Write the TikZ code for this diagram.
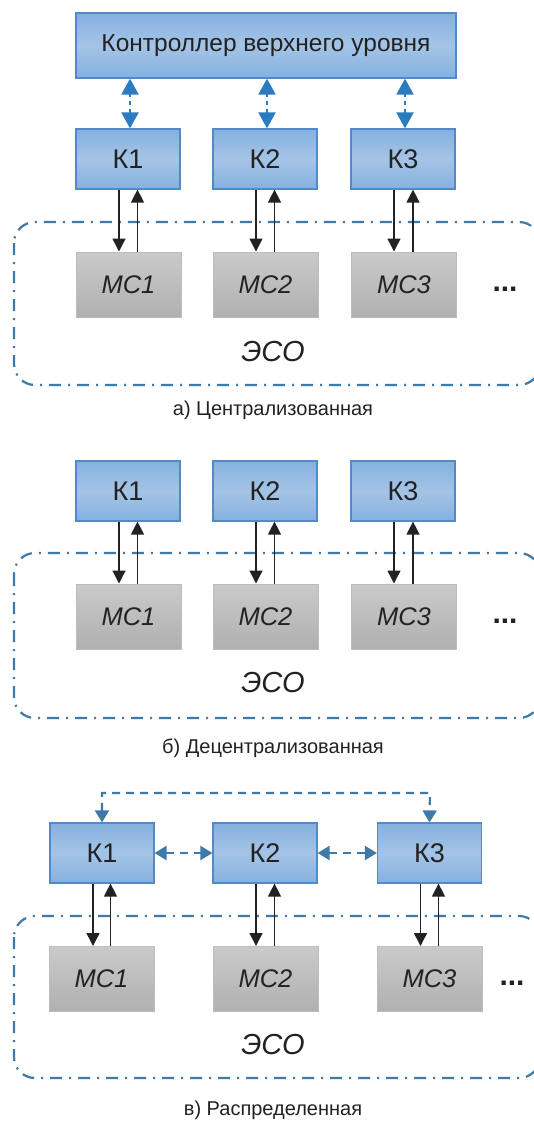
\documentclass[tikz,border=0pt]{standalone}
\usepackage{fontspec}
\setmainfont{Liberation Sans}
\usetikzlibrary{arrows.meta}
\definecolor{kbord}{HTML}{5289C9}
\definecolor{ktop}{HTML}{85B1DF}
\definecolor{kmid}{HTML}{A4C4E6}
\definecolor{mbord}{HTML}{BDBDBD}
\definecolor{mtop}{HTML}{CACACA}
\definecolor{mbot}{HTML}{B0B0B0}
\definecolor{esoc}{HTML}{3E79A8}
\definecolor{barr}{HTML}{2A7BC0}
\definecolor{txt}{HTML}{222222}
\tikzset{
  kbox/.style={draw=kbord, line width=1.2pt, top color=ktop, bottom color=ktop, middle color=kmid,
    minimum width=104pt, minimum height=60pt, inner sep=0pt, text=txt, font=\fontsize{27}{30}\selectfont},
  mcbox/.style={draw=mbord, line width=1pt, top color=mtop, bottom color=mbot,
    minimum width=105pt, minimum height=65pt, inner sep=0pt, text=txt, font=\fontsize{25.5}{30}\selectfont\itshape},
  esobox/.style={draw=esoc, line width=2.2pt, rounded corners=21pt, dash pattern=on 12pt off 7pt on 2pt off 7pt},
  esolabel/.style={text=txt, font=\fontsize{29}{32}\selectfont\itshape, inner sep=0pt},
  dots/.style={text=txt, font=\fontsize{30}{32}\selectfont\bfseries, inner sep=0pt},
  capt/.style={text=txt, font=\fontsize{20}{24}\selectfont, inner sep=0pt},
  bluearr/.style={draw=barr, line width=2pt, dash pattern=on 4pt off 4pt, {Triangle[length=16pt,width=17pt]}-{Triangle[length=16pt,width=17pt]}},
  peerarr/.style={draw=esoc, line width=2.2pt, dash pattern=on 8pt off 6pt, {Triangle[length=12pt,width=14pt]}-{Triangle[length=12pt,width=14pt]}},
  blkarr/.style={draw=txt, line width=1.4pt, -{Triangle[length=13pt,width=13pt]}},
}
\begin{document}
\begin{tikzpicture}[x=1pt,y=-1pt]
\useasboundingbox (0,0) rectangle (534,1122);
\fill[white] (0,0) rectangle (534,1122);

% ---------- panel a ----------
\draw[esobox] (14,222) rectangle (540,385);
\node[kbox, minimum width=380pt, minimum height=65pt, font=\fontsize{24.5}{28}\selectfont] (top) at (266,45.5) {Контроллер верхнего уровня};
\node[kbox] (ka1) at (128,159) {К1};
\node[kbox] (ka2) at (265,159) {К2};
\node[kbox] (ka3) at (403,159) {К3};
\node[mcbox] (ma1) at (128.5,284.5) {МС1};
\node[mcbox] (ma2) at (265.5,284.5) {МС2};
\node[mcbox] (ma3) at (404,284.5) {МС3};
\node[dots] (da) at (505,289) {...};
\node[esolabel] (ea) at (273,352) {ЭСО};
\node[capt] (ca) at (273,410) {а) Централизованная};
\foreach \i in {1,2,3}{
  \draw[bluearr] ([xshift=2pt]ka\i.north) -- ([xshift=2pt]ka\i.north |- top.south);
  \draw[blkarr] ([xshift=-9pt]ka\i.south) -- ([xshift=-9pt]ka\i.south |- ma\i.north);
  \draw[blkarr] ([xshift=9pt]ma\i.north) -- ([xshift=9pt]ma\i.north |- ka\i.south);
}

% ---------- panel b ----------
\draw[esobox] (14,553) rectangle (540,718);
\node[kbox] (kb1) at (128,491) {К1};
\node[kbox] (kb2) at (265,491) {К2};
\node[kbox] (kb3) at (403,491) {К3};
\node[mcbox] (mb1) at (128.5,616.5) {МС1};
\node[mcbox] (mb2) at (265.5,616.5) {МС2};
\node[mcbox] (mb3) at (404,616.5) {МС3};
\node[dots] (db) at (505,621) {...};
\node[esolabel] (eb) at (273,683) {ЭСО};
\node[capt] (cb) at (273,748) {б) Децентрализованная};
\foreach \i in {1,2,3}{
  \draw[blkarr] ([xshift=-9pt]kb\i.south) -- ([xshift=-9pt]kb\i.south |- mb\i.north);
  \draw[blkarr] ([xshift=9pt]mb\i.north) -- ([xshift=9pt]mb\i.north |- kb\i.south);
}

% ---------- panel c ----------
\draw[esobox] (14,916) rectangle (540,1078);
\node[kbox] (kc1) at (102,853) {К1};
\node[kbox] (kc2) at (265,853) {К2};
\node[kbox] (kc3) at (429.5,853) {К3};
\node[mcbox] (mc1) at (101.5,979) {МС1};
\node[mcbox] (mc2) at (265.5,979) {МС2};
\node[mcbox] (mc3) at (429.5,979) {МС3};
\node[dots] (dc) at (512,983) {...};
\node[esolabel] (ec) at (273,1045) {ЭСО};
\node[capt] (cc) at (273,1110) {в) Распределенная};
\coordinate (t1) at (102,793);
\coordinate (t3) at (430,793);
\draw[peerarr] (kc1.north) -- (t1) -- (t3) -- (kc3.north);
\draw[peerarr] (kc1.east) -- (kc2.west);
\draw[peerarr] (kc2.east) -- (kc3.west);
\foreach \i in {1,2,3}{
  \draw[blkarr] ([xshift=-9pt]kc\i.south) -- ([xshift=-9pt]kc\i.south |- mc\i.north);
  \draw[blkarr] ([xshift=9pt]mc\i.north) -- ([xshift=9pt]mc\i.north |- kc\i.south);
}
\end{tikzpicture}
\end{document}
